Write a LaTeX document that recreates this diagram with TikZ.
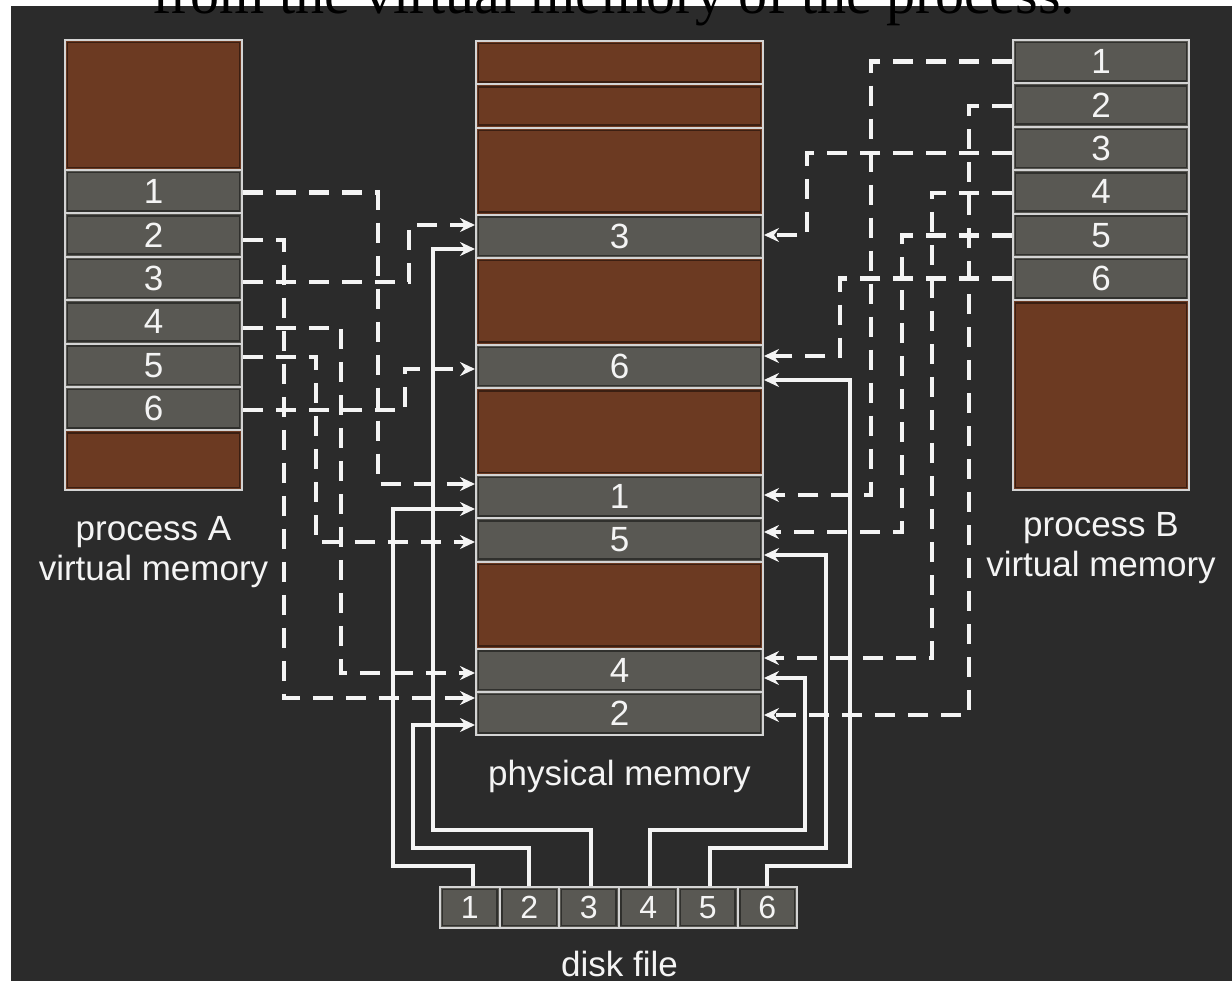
\documentclass[tikz,border=0pt]{standalone}
\usepackage{fontspec}
\setmainfont{Liberation Sans}
\newfontfamily\pageserif{Liberation Serif}
\usetikzlibrary{arrows.meta}
\definecolor{bgdark}{RGB}{43,43,43}
\definecolor{pagebrown}{RGB}{108,58,34}
\definecolor{pagegray}{RGB}{89,88,83}
\definecolor{edgegray}{RGB}{212,212,212}
\definecolor{linewhite}{RGB}{244,244,244}
\begin{document}
\begin{tikzpicture}[x=1pt,y=-1pt,line join=miter,
    cell/.style={draw=edgegray,line width=2pt,fill=pagegray,minimum width=#1,minimum height=43.4pt,
      inner sep=0pt,text=linewhite,font=\fontsize{35}{40}\selectfont,
      path picture={\draw[black,opacity=0.45,line width=1.6pt]
        ([shift={(2.6pt,-2.6pt)}]path picture bounding box.north west) rectangle
        ([shift={(-2.6pt,2.6pt)}]path picture bounding box.south east);}},
    freecell/.style={cell=#1,fill=pagebrown},
    memlabel/.style={text=linewhite,font=\fontsize{35}{40}\selectfont,anchor=base,inner sep=0pt},
    dline/.style={draw=linewhite,line width=4.5pt,dash pattern=on 20pt off 13pt},
    sline/.style={draw=linewhite,line width=4pt},
    ptr/.style={-{Stealth[length=15pt,width=14pt,inset=5pt]}}]
  \useasboundingbox (0,0) rectangle (1232,981);
  \fill[white] (0,0) rectangle (1232,981);
  \fill[bgdark] (11,6) rectangle (1232,981);

  % process A
  \node[freecell=177pt,minimum height=130pt] (Atop) at (153.5,105) {};
  \foreach \i in {1,...,6}
    \node[cell=177pt] (A\i) at (153.5,{170+(\i-0.5)*43.4}) {\i};
  \node[freecell=177pt,minimum height=59.6pt] (Abot) at (153.5,460.2) {};
  \node[memlabel] (labA) at (153.5,540) {process A};
  \node[memlabel] (labAv) at (153.5,580) {virtual memory};

  % physical memory
  \foreach \r/\s [count=\k] in {0/1,1/1,2/2,5/2,8/2,12/2}
    \node[freecell=287pt,minimum height=\s*43.4pt] (Pfree\k) at (619.5,{41+(\r+\s/2)*43.4}) {};
  \foreach \r/\n in {4/3,7/6,10/1,11/5,14/4,15/2}
    \node[cell=287pt] (P\n) at (619.5,{41+(\r+0.5)*43.4}) {\n};
  \node[memlabel] (labP) at (619.5,785) {physical memory};

  % process B
  \foreach \i in {1,...,6}
    \node[cell=176pt] (B\i) at (1101,{40+(\i-0.5)*43.4}) {\i};
  \node[freecell=176pt,minimum height=189.6pt] (Bbot) at (1101,395.2) {};
  \node[memlabel] (labB) at (1101,536) {process B};
  \node[memlabel] (labBv) at (1101,576) {virtual memory};

  % disk file
  \foreach \i in {1,...,6}
    \node[cell=59.5pt,minimum height=41pt,font=\fontsize{32}{36}\selectfont] (D\i) at ({440+(\i-0.5)*59.5},907.5) {\i};
  \node[memlabel] (labD) at (619.5,976) {disk file};

  % process A -> physical memory
  \draw[dline,ptr] ([yshift=-1pt]A1.east) -- ++(135,0) |- ([yshift=12.7pt]P1.west);
  \draw[dline,ptr] ([yshift=-4.7pt]A2.east) -- ++(41,0) |- ([yshift=15.7pt]P2.west);
  \draw[dline,ptr] ([yshift=-3.3pt]A3.east) -- ++(166,0) |- ([yshift=11.3pt]P3.west);
  \draw[dline,ptr] ([yshift=-5.9pt]A4.east) -- ++(98,0) |- ([yshift=-2.7pt]P4.west);
  \draw[dline,ptr] ([yshift=8.5pt]A5.east) -- ++(73,0) |- ([yshift=-1.9pt]P5.west);
  \draw[dline,ptr] ([yshift=-1.1pt]A6.east) -- ++(162,0) |- ([yshift=-2.5pt]P6.west);

  % process B -> physical memory
  \draw[dline,ptr] (B1.west) -- ++(-141,0) |- ([yshift=1.7pt]P1.east);
  \draw[dline,ptr] ([yshift=-1pt]B2.west) -- ++(-43,0) |- ([yshift=-1.3pt]P2.east);
  \draw[dline,ptr] ([yshift=-4.5pt]B3.west) -- ++(-205,0) |- ([yshift=1.3pt]P3.east);
  \draw[dline,ptr] ([yshift=-1.1pt]B4.west) -- ++(-80,0) |- ([yshift=12.3pt]P4.east);
  \draw[dline,ptr] (B5.west) -- ++(-110,0) |- ([yshift=8.1pt]P5.east);
  \draw[dline,ptr] (B6.west) -- ++(-172,0) |- ([yshift=10.5pt]P6.east);

  % disk file -> physical memory
  \draw[sline,ptr] ([xshift=3pt]D1.north) -- ++(0,-20) -- ++(-80,0) |- ([yshift=-12.3pt]P1.west);
  \draw[sline,ptr] (D2.north) -- ++(0,-38) -- ++(-116,0) |- ([yshift=-11.3pt]P2.west);
  \draw[sline,ptr] ([xshift=2pt]D3.north) -- ++(0,-56) -- ++(-158,0) |- ([yshift=-12.7pt]P3.west);
  \draw[sline,ptr] ([xshift=2pt]D4.north) -- ++(0,-56) -- ++(155,0) |- ([yshift=-7.7pt]P4.east);
  \draw[sline,ptr] ([xshift=2pt]D5.north) -- ++(0,-38) -- ++(116,0) |- ([yshift=-14.9pt]P5.east);
  \draw[sline,ptr] (D6.north) -- ++(0,-20) -- ++(83,0) |- ([yshift=-13.5pt]P6.east);

  \node[anchor=base west,inner sep=0pt,font=\pageserif\fontsize{58}{64}\selectfont] (cuttext) at (152,14) {from the virtual memory of the process.};
\end{tikzpicture}
\end{document}
